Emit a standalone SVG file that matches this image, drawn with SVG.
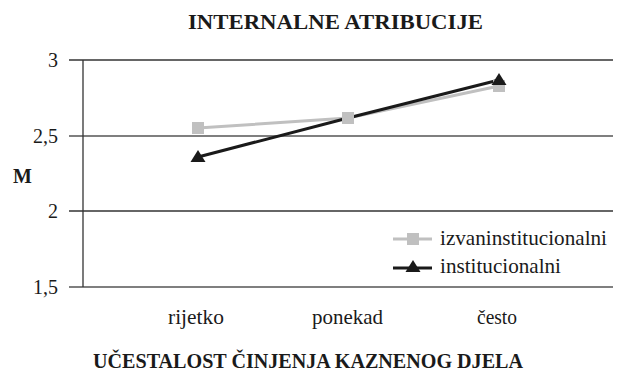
<svg xmlns="http://www.w3.org/2000/svg" width="617" height="372" viewBox="0 0 617 372">
<style>
.grid{stroke:#333;stroke-width:1.3}
.gray{stroke:#c0c0c0;stroke-width:3;fill:none}
.blk{stroke:#1a1a1a;stroke-width:3;fill:none}
</style>
<defs>
<rect id="sq" x="-6" y="-6" width="12" height="12" fill="#c0c0c0"/>
<polygon id="tri" points="0,-7 7.5,5 -7.5,5" fill="#1a1a1a"/>
</defs>
<rect width="617" height="372" fill="#fff"/>
<g font-family="Liberation Serif, Times New Roman, DejaVu Serif, serif" fill="#1a1a1a">
<text font-weight="bold" x="188" y="29" font-size="21" textLength="295" lengthAdjust="spacingAndGlyphs">INTERNALNE ATRIBUCIJE</text>
<g id="axes" font-size="21">
<line class="grid" x1="69" y1="60" x2="613" y2="60"/>
<line x1="69" y1="136" x2="613" y2="136" stroke="#555" stroke-width="1.3"/>
<line class="grid" x1="69" y1="211" x2="613" y2="211"/>
<line x1="69" y1="287" x2="613" y2="287" stroke="#555" stroke-width="1.5"/>
<line class="grid" x1="83" y1="60" x2="83" y2="287"/>
<text text-anchor="end" font-size="20" x="58" y="67">3</text>
<text text-anchor="end" font-size="20" x="58" y="143">2,5</text>
<text text-anchor="end" font-size="20" x="58" y="218">2</text>
<text text-anchor="end" font-size="20" x="58" y="294">1,5</text>
<text font-weight="bold" x="13" y="183" font-size="20">M</text>
<text x="168" y="324" textLength="56" lengthAdjust="spacingAndGlyphs">rijetko</text>
<text x="312" y="324" textLength="71" lengthAdjust="spacingAndGlyphs">ponekad</text>
<text x="477" y="324" textLength="40" lengthAdjust="spacingAndGlyphs">često</text>
<text font-weight="bold" x="93" y="368" font-size="20" textLength="430" lengthAdjust="spacingAndGlyphs">UČESTALOST ČINJENJA KAZNENOG DJELA</text>
</g>
<g id="connectors">
<polyline id="izvan-line" class="gray" points="198,128 348,118 499,86"/>
<polyline id="inst-line" class="blk" points="198,157 348,118 499,80"/>
</g>
<g id="izvan-points">
<use href="#sq" x="198" y="128"/>
<use href="#sq" x="348" y="118"/>
<use href="#sq" x="499" y="86"/>
</g>
<g id="inst-points">
<use href="#tri" x="198" y="157"/>
<use href="#tri" x="499" y="80"/>
</g>
<g id="legend" font-size="21">
<line class="gray" x1="393" y1="239" x2="432" y2="239"/>
<use href="#sq" x="413" y="239"/>
<text x="440" y="245" textLength="167" lengthAdjust="spacingAndGlyphs">izvaninstitucionalni</text>
<line class="blk" x1="393" y1="268" x2="432" y2="268"/>
<use href="#tri" x="413" y="267"/>
<text x="440" y="273" textLength="121" lengthAdjust="spacingAndGlyphs">institucionalni</text>
</g>
</g>
</svg>
